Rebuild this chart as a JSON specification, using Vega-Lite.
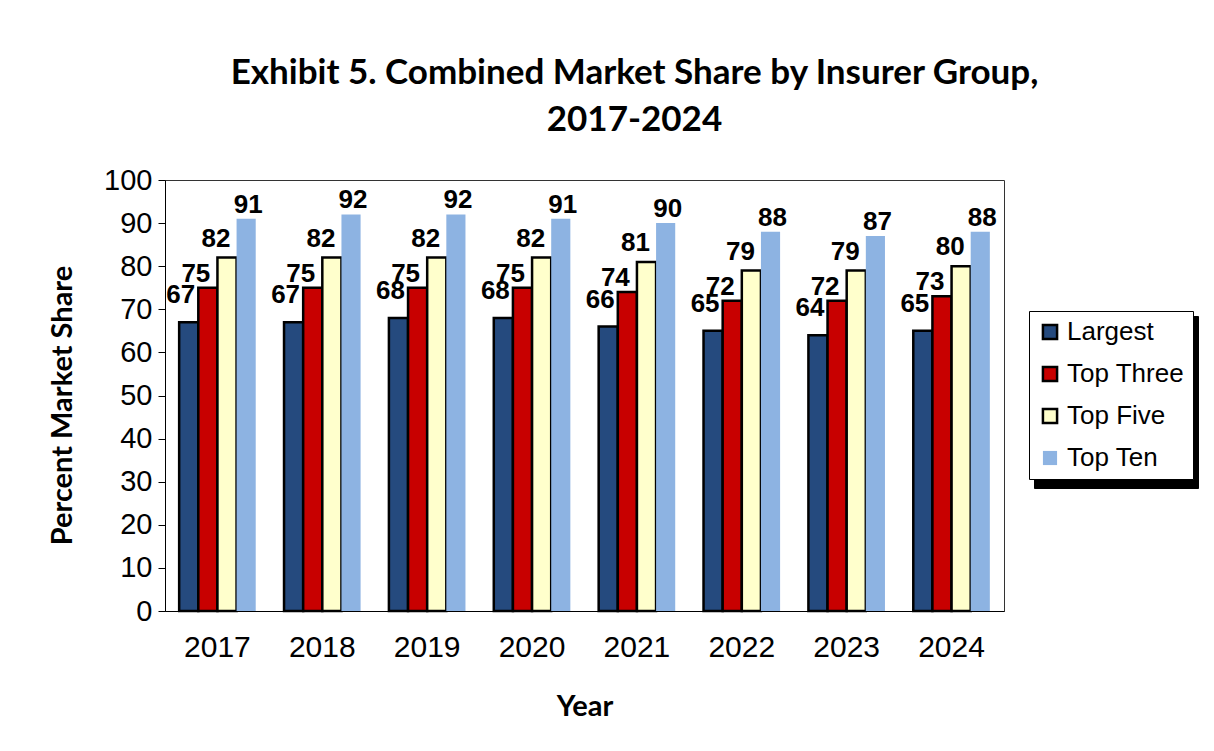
{
  "$schema": "https://vega.github.io/schema/vega-lite/v6.json",
  "autosize": {"type": "none"},
  "width": 839,
  "height": 431,
  "padding": {"left": 165, "top": 180, "right": 210, "bottom": 140},
  "background": "white",
  "title": {
    "text": ["Exhibit 5. Combined Market Share by Insurer Group,", "2017-2024"],
    "font": "Lato",
    "fontSize": 35,
    "fontWeight": "bold",
    "color": "#000",
    "anchor": "middle",
    "dx": 50,
    "offset": 28,
    "lineHeight": 47
  },
  "data": {
    "values": [
      {"year": "2017", "series": "Largest", "value": 67},
      {"year": "2017", "series": "Top Three", "value": 75},
      {"year": "2017", "series": "Top Five", "value": 82},
      {"year": "2017", "series": "Top Ten", "value": 91},
      {"year": "2018", "series": "Largest", "value": 67},
      {"year": "2018", "series": "Top Three", "value": 75},
      {"year": "2018", "series": "Top Five", "value": 82},
      {"year": "2018", "series": "Top Ten", "value": 92},
      {"year": "2019", "series": "Largest", "value": 68},
      {"year": "2019", "series": "Top Three", "value": 75},
      {"year": "2019", "series": "Top Five", "value": 82},
      {"year": "2019", "series": "Top Ten", "value": 92},
      {"year": "2020", "series": "Largest", "value": 68},
      {"year": "2020", "series": "Top Three", "value": 75},
      {"year": "2020", "series": "Top Five", "value": 82},
      {"year": "2020", "series": "Top Ten", "value": 91},
      {"year": "2021", "series": "Largest", "value": 66},
      {"year": "2021", "series": "Top Three", "value": 74},
      {"year": "2021", "series": "Top Five", "value": 81},
      {"year": "2021", "series": "Top Ten", "value": 90},
      {"year": "2022", "series": "Largest", "value": 65},
      {"year": "2022", "series": "Top Three", "value": 72},
      {"year": "2022", "series": "Top Five", "value": 79},
      {"year": "2022", "series": "Top Ten", "value": 88},
      {"year": "2023", "series": "Largest", "value": 64},
      {"year": "2023", "series": "Top Three", "value": 72},
      {"year": "2023", "series": "Top Five", "value": 79},
      {"year": "2023", "series": "Top Ten", "value": 87},
      {"year": "2024", "series": "Largest", "value": 65},
      {"year": "2024", "series": "Top Three", "value": 73},
      {"year": "2024", "series": "Top Five", "value": 80},
      {"year": "2024", "series": "Top Ten", "value": 88}
    ]
  },
  "encoding": {
    "x": {
      "field": "year", "type": "nominal",
      "scale": {"paddingInner": 0.27, "paddingOuter": 0.135},
      "axis": {
        "title": "Year", "labelAngle": 0, "ticks": false,
        "labelFont": "Liberation Sans", "labelFontSize": 30, "labelColor": "#000",
        "labelPadding": 21, "domainColor": "#000", "domainWidth": 1,
        "titleFont": "Lato", "titleFontSize": 29, "titleFontWeight": "bold", "titleColor": "#000",
        "titlePadding": 30
      }
    },
    "xOffset": {"field": "series", "type": "nominal", "sort": ["Largest", "Top Three", "Top Five", "Top Ten"], "scale": {"paddingInner": 0, "paddingOuter": 0}},
    "y": {
      "field": "value", "type": "quantitative",
      "scale": {"domain": [0, 100]},
      "axis": {
        "title": "Percent Market Share", "values": [0,10,20,30,40,50,60,70,80,90,100],
        "grid": false, "tickSize": 7, "tickColor": "#000", "domainColor": "#000",
        "labelFont": "Liberation Sans", "labelFontSize": 29, "labelColor": "#000", "labelPadding": 6,
        "titleFont": "Lato", "titleFontSize": 29, "titleFontWeight": "bold", "titleColor": "#000",
        "titlePadding": 26, "titleY": 225
      }
    }
  },
  "layer": [
    {
      "transform": [{"filter": "datum.series === 'Largest'"}],
      "mark": {"type": "text", "font": "Liberation Sans", "fontSize": 26, "fontWeight": "bold", "baseline": "bottom", "dx": -8, "dy": -14},
      "encoding": {
        "text": {"field": "value", "type": "quantitative"},
        "color": {
          "field": "series", "type": "nominal",
          "scale": {"domain": ["Largest", "Top Three", "Top Five", "Top Ten"], "range": ["#000", "#000", "#000", "#000"]},
          "legend": {
            "title": null, "legendX": 869, "legendY": 136,
            "fillColor": "#000", "strokeColor": "#000", "symbolStrokeColor": "#000",
            "labelExpr": "''", "symbolSize": 676, "labelOffset": 119, "rowPadding": 4
          }
        }
      }
    },
    {
      "mark": {"type": "bar", "strokeWidth": 2.5},
      "encoding": {
        "color": {
          "field": "series", "type": "nominal",
          "sort": ["Largest", "Top Three", "Top Five", "Top Ten"],
          "scale": {"domain": ["Largest", "Top Three", "Top Five", "Top Ten"], "range": ["#254A7E", "#C80000", "#FFFFCC", "#8DB3E2"]},
          "legend": {"title": null}
        },
        "stroke": {
          "field": "series", "type": "nominal",
          "scale": {"domain": ["Largest", "Top Three", "Top Five", "Top Ten"], "range": ["#000", "#000", "#000", "transparent"]},
          "legend": {"title": null}
        }
      }
    },
    {
      "transform": [{"filter": "datum.series === 'Top Three'"}],
      "mark": {"type": "text", "font": "Liberation Sans", "fontSize": 26, "fontWeight": "bold", "baseline": "bottom", "dx": -12, "dy": -1, "color": "#000"},
      "encoding": {"text": {"field": "value", "type": "quantitative"}}
    },
    {
      "transform": [{"filter": "datum.series === 'Top Five'"}],
      "mark": {"type": "text", "font": "Liberation Sans", "fontSize": 26, "fontWeight": "bold", "baseline": "bottom", "dx": -11, "dy": -6, "color": "#000"},
      "encoding": {"text": {"field": "value", "type": "quantitative"}}
    },
    {
      "transform": [{"filter": "datum.series === 'Top Ten'"}],
      "mark": {"type": "text", "font": "Liberation Sans", "fontSize": 26, "fontWeight": "bold", "baseline": "bottom", "dx": 2, "dy": -1, "color": "#000"},
      "encoding": {"text": {"field": "value", "type": "quantitative"}}
    }
  ],
  "resolve": {"scale": {"color": "independent", "stroke": "independent"}, "legend": {"color": "independent", "stroke": "independent"}},
  "config": {
    "view": {"stroke": "#333", "strokeWidth": 1},
    "legend": {
      "orient": "none", "legendX": 864, "legendY": 131,
      "symbolType": "square", "symbolSize": 200, "symbolStrokeWidth": 2.5,
      "labelFont": "Liberation Sans", "labelFontSize": 26, "labelColor": "#000",
      "rowPadding": 16, "padding": 8, "strokeColor": "#000", "fillColor": "#fff",
      "labelOffset": 4, "labelLimit": 300
    }
  }
}
